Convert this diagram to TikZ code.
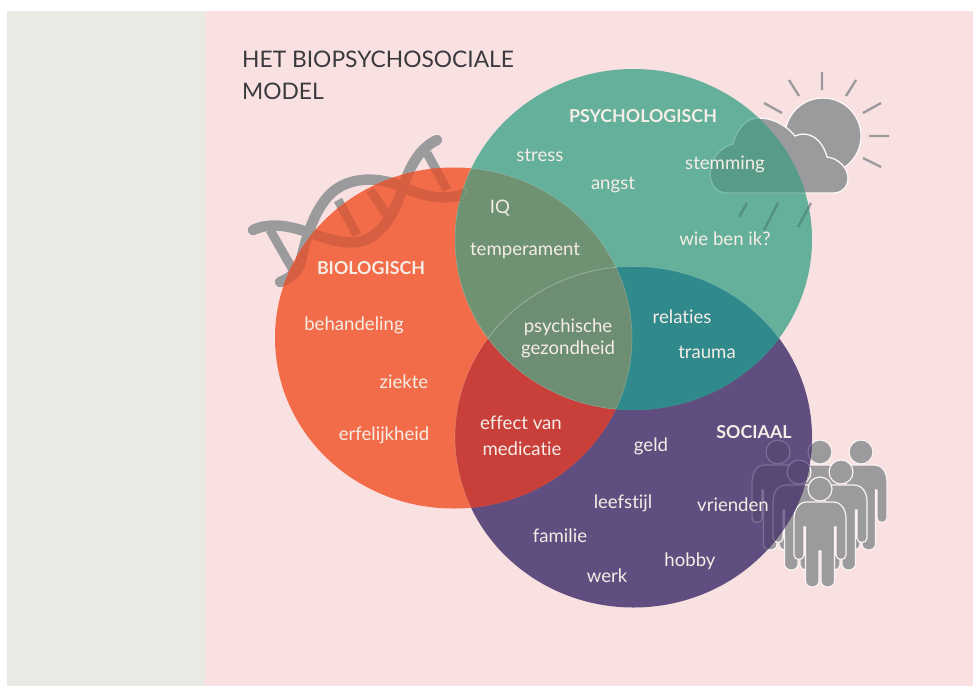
\documentclass[tikz,border=0pt]{standalone}
\usepackage{fontspec}
\setmainfont[Ligatures=NoCommon]{Lato}
\definecolor{pagegrey}{HTML}{EAEAE5}
\definecolor{pagepink}{HTML}{F9E1E1}
\definecolor{bioc}{HTML}{F26C49}
\definecolor{psyc}{HTML}{64B09B}
\definecolor{socc}{HTML}{5F4E7F}
\definecolor{biopsy}{HTML}{6F9273}
\definecolor{biosoc}{HTML}{C9403B}
\definecolor{psysoc}{HTML}{30898A}
\definecolor{allc}{HTML}{6E8E74}
\definecolor{icon}{HTML}{9B9B9E}
\definecolor{txt}{HTML}{F5EDE6}
\definecolor{ink}{HTML}{3A3A3E}
\tikzset{
 lab/.style={text=txt,font=\fontsize{18.6}{22}\selectfont,inner sep=0pt,yshift=-1pt},
 head/.style={text=txt,font=\fontsize{17.8}{22}\selectfont\bfseries,inner sep=0pt,yshift=-1pt},
 ttl/.style={text=ink,font=\fontsize{22.8}{27}\selectfont,inner sep=0pt,anchor=base west},
 ray/.style={draw=icon,line width=2.4pt},
 dnaline/.style={line width=10.5pt,line cap=round,line join=round},
 rungline/.style={line width=9pt},
}
\newcommand{\bioshape}{(453.5,338) ellipse [x radius=178.5,y radius=170.5]}
\newcommand{\psyshape}{(633.5,239.5) ellipse [x radius=178.5,y radius=170.5]}
\newcommand{\socshape}{(633.5,437) ellipse [x radius=178.5,y radius=170.5]}
\newcommand{\strandA}{(253,230) .. controls (270,222) and (290,226) .. (307,232) .. controls (330,240) and (350,246) .. (365,240) .. controls (385,232) and (395,210) .. (402,190) .. controls (410,165) and (420,148) .. (437,140)}
\newcommand{\strandB}{(280,282) .. controls (290,278) and (297,272) .. (300,265) .. controls (305,240) and (315,205) .. (335,190) .. controls (355,175) and (385,178) .. (405,188) .. controls (425,197) and (450,202) .. (467,192)}
\newcommand{\rungs}{(270,230) -- (293,270) (338,200) -- (357,235) (370,190) -- (387,215) (427,153) -- (447,190)}
\newcommand{\cloudshape}{(727,193) .. controls (716,193) and (710,184) .. (710,173) .. controls (710,158) and (722,146) .. (733,144) .. controls (737,128) and (747,118) .. (758,118) .. controls (772,118) and (785,124) .. (795,136) .. controls (808,130) and (822,138) .. (827,157) .. controls (838,158) and (848,168) .. (848,178) .. controls (848,187) and (842,193) .. (833,193) -- cycle}
% one person: #1,#2 = head centre; #3 = style
\newcommand{\oneperson}[3]{%
 \path[#3,shift={(#1,#2)}] (-13,13) .. controls (-21,13) and (-26,20) .. (-26,30) -- (-26,66) .. controls (-26,72) and (-16,72) .. (-16,66) -- (-16,38) -- (-14.5,38) -- (-14.5,92) .. controls (-14.5,100) and (-1,100) .. (-1,92) -- (-1,62) -- (1,62) -- (1,92) .. controls (1,100) and (14.5,100) .. (14.5,92) -- (14.5,38) -- (16,38) -- (16,66) .. controls (16,72) and (26,72) .. (26,66) -- (26,30) .. controls (26,20) and (21,13) .. (13,13) -- cycle;
 \path[#3] (#1,#2) circle [radius=12];}
\newcommand{\crowd}[1]{%
 \oneperson{861}{452}{#1}\oneperson{820}{452}{#1}\oneperson{778}{452}{#1}%
 \oneperson{841}{472}{#1}\oneperson{799}{472}{#1}\oneperson{820}{489}{#1}}
\begin{document}
\begin{tikzpicture}[x=1pt,y=-1pt]
\useasboundingbox (0,0) rectangle (973,686);
\fill[white] (0,0) rectangle (973,686);
\fill[pagegrey] (7,11) rectangle (205,686);
\fill[pagepink] (205,11) rectangle (973,686);
% icons behind the circles
\draw[icon,dnaline] \strandA;
\draw[icon,dnaline] \strandB;
\draw[icon,rungline] \rungs;
\draw[ray] (822,72) -- (822,90) (856,80) -- (846,96) (881,103) -- (863,113) (869,136) -- (889,136) (863,158) -- (881,167) (789,80) -- (799,96) (764,103) -- (782,113);
\draw[ray] (747,203) -- (739,217) (778,203) -- (764,230) (811,203) -- (798,227);
\fill[icon,draw=white!70!pagepink,line width=1.3pt] (823,136) circle [radius=38];
\fill[icon,draw=white!70!pagepink,line width=1.3pt] \cloudshape;
\crowd{fill=icon,draw=white!55!pagepink,line width=1.2pt}
% circles and overlaps
\fill[socc] \socshape;
\fill[bioc] \bioshape;
\fill[psyc] \psyshape;
\begin{scope}\clip \bioshape; \fill[biosoc] \socshape; \end{scope}
\begin{scope}\clip \psyshape; \fill[psysoc] \socshape; \end{scope}
\begin{scope}\clip \bioshape; \fill[biopsy] \psyshape; \end{scope}
\begin{scope}\clip \bioshape; \clip \psyshape; \fill[allc] \socshape; \end{scope}
% faint rims of the central lens
\begin{scope}\clip \bioshape; \draw[white,opacity=.18,line width=.7pt] \psyshape; \draw[white,opacity=.18,line width=.7pt] \socshape; \end{scope}
\begin{scope}\clip \psyshape; \draw[white,opacity=.18,line width=.7pt] \bioshape; \draw[white,opacity=.18,line width=.7pt] \socshape; \end{scope}
% icons seen through the circles
\begin{scope}\clip \bioshape;
 \draw[black!12!bioc,dnaline] \strandA;
 \draw[black!12!bioc,dnaline] \strandB;
 \draw[black!12!bioc,rungline] \rungs;
 \begin{scope}\clip \psyshape; \draw[biopsy,dnaline] \strandB; \draw[white,opacity=.15,line width=.6pt] (446,186) .. controls (455,183) and (465,187) .. (467,192) .. controls (465,198) and (455,203) .. (446,203); \end{scope}
\end{scope}
\begin{scope}\clip \psyshape;
 \fill[black!12!psyc,draw=white!15!psyc,line width=1.4pt] \cloudshape;
 \draw[black!18!psyc,line width=2.4pt] (747,203) -- (739,217) (778,203) -- (764,230) (811,203) -- (798,227);
\end{scope}
\begin{scope}\clip \socshape;
 \crowd{fill=black!8!socc,draw=white!18!socc,line width=1.2pt}
\end{scope}
% texts
\node[ttl] (t1) at (242,67) {HET BIOPSYCHOSOCIALE};
\node[ttl] (t2) at (242,99) {MODEL};
\node[head] (psy) at (643,115) {PSYCHOLOGISCH};
\node[head] (bio) at (371,267) {BIOLOGISCH};
\node[head] (soc) at (754,431) {SOCIAAL};
\node[lab] (a1) at (540,154) {stress};
\node[lab] (a2) at (613,184) {angst};
\node[lab] (a3) at (725,163) {stemming};
\node[lab] (a4) at (500,207) {IQ};
\node[lab] (a5) at (525,250) {temperament};
\node[lab] (a6) at (725,238) {wie ben ik?};
\node[lab] (b1) at (354,324) {behandeling};
\node[lab] (b2) at (404,381) {ziekte};
\node[lab] (b3) at (384,434) {erfelijkheid};
\node[lab] (c1) at (568,326) {psychische};
\node[lab] (c2) at (568,348) {gezondheid};
\node[lab] (d1) at (682,316) {relaties};
\node[lab] (d2) at (707,351) {trauma};
\node[lab] (e1) at (521,422) {effect van};
\node[lab] (e2) at (522,448) {medicatie};
\node[lab] (s1) at (651,445) {geld};
\node[lab] (s2) at (623,502) {leefstijl};
\node[lab] (s3) at (733,504) {vrienden};
\node[lab] (s4) at (560,535) {familie};
\node[lab] (s5) at (690,560) {hobby};
\node[lab] (s6) at (607,575) {werk};
\end{tikzpicture}
\end{document}
